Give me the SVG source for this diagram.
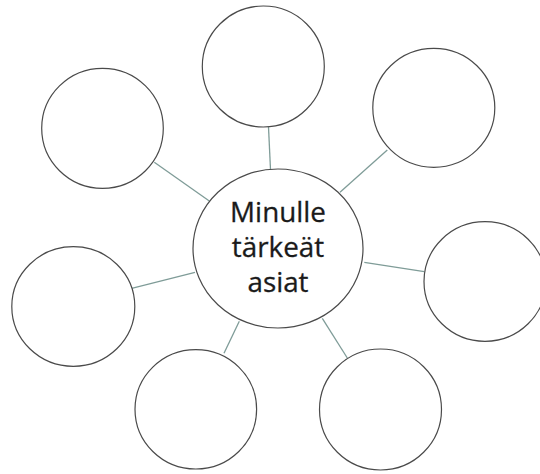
<svg xmlns="http://www.w3.org/2000/svg" width="540" height="474" viewBox="0 0 540 474">
<style>
.n{fill:#fff;stroke:#4a4a4a;stroke-width:1.2}
.c{stroke:#7f9c98;stroke-width:1.3;fill:none}
.t{font-family:"Open Sans","Liberation Sans",sans-serif;font-size:27.8px;fill:#1a1a1a;stroke:#1a1a1a;stroke-width:0.3;text-anchor:middle}
</style>
<rect width="540" height="474" fill="#fff"/>
<g id="connectors">
<line class="c" x1="154.3" y1="162.3" x2="209.3" y2="201"/>
<line class="c" x1="268.5" y1="127" x2="270.5" y2="169.5"/>
<line class="c" x1="387.3" y1="150" x2="340" y2="192.3"/>
<line class="c" x1="364.3" y1="262.3" x2="424.3" y2="271.7"/>
<line class="c" x1="322.3" y1="318.3" x2="347.3" y2="358"/>
<line class="c" x1="239.3" y1="321.3" x2="224" y2="353.3"/>
<line class="c" x1="131.7" y1="288.3" x2="195" y2="272.3"/>
</g>
<g id="node-top"><ellipse class="n" cx="263.3" cy="66.5" rx="61" ry="60.5"/></g>
<g id="node-top-left"><ellipse class="n" cx="102.5" cy="128.3" rx="60.8" ry="60"/></g>
<g id="node-top-right"><ellipse class="n" cx="433.8" cy="107.8" rx="61" ry="59.5"/></g>
<g id="node-right"><ellipse class="n" cx="485" cy="281.5" rx="61" ry="59.8"/></g>
<g id="node-left"><ellipse class="n" cx="73.3" cy="306.5" rx="61.5" ry="59.8"/></g>
<g id="node-bottom-left"><ellipse class="n" cx="195.8" cy="409.3" rx="60.8" ry="59.7"/></g>
<g id="node-bottom-right"><ellipse class="n" cx="380.5" cy="409.5" rx="61" ry="60.5"/></g>
<g id="node-center">
<ellipse class="n" cx="278" cy="248.5" rx="85" ry="79.5"/>
<text class="t" x="278" y="221.7">Minulle</text>
<text class="t" x="278" y="257.3">tärkeät</text>
<text class="t" x="278" y="291.7">asiat</text>
</g>
</svg>
